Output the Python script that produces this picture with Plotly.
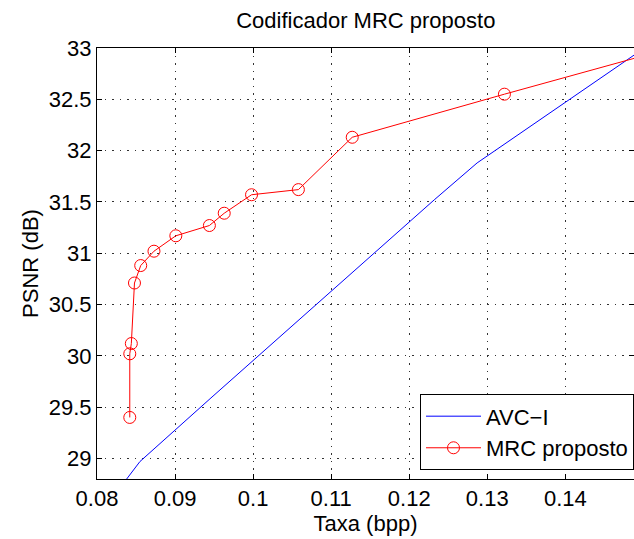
import plotly.graph_objects as go

# AVC-I reference curve (rate in bpp, PSNR in dB)
avc_rate = [0.0836, 0.0855, 0.0946, 0.1232, 0.1287, 0.1530]
avc_psnr = [28.78, 28.97, 29.59, 31.52, 31.88, 33.15]

# Proposed MRC coder
mrc_rate = [0.0842, 0.0842, 0.0844, 0.0848, 0.0856, 0.0873, 0.0901, 0.0944,
            0.0963, 0.0998, 0.1058, 0.1127, 0.1322, 0.1560]
mrc_psnr = [29.40, 30.02, 30.12, 30.71, 30.88, 31.02, 31.17, 31.27,
            31.39, 31.57, 31.62, 32.13, 32.55, 33.05]

x_ticks = [0.08, 0.09, 0.1, 0.11, 0.12, 0.13, 0.14]
x_tick_text = ["0.08", "0.09", "0.1", "0.11", "0.12", "0.13", "0.14"]
y_ticks = [29, 29.5, 30, 30.5, 31, 31.5, 32, 32.5, 33]
y_tick_text = ["29", "29.5", "30", "30.5", "31", "31.5", "32", "32.5", "33"]

FONT = "Liberation Sans, Arial, Helvetica, sans-serif"
FS = 22

fig = go.Figure()
fig.add_trace(go.Scatter(x=avc_rate, y=avc_psnr, mode="lines", name="AVC\u2212I",
                         line=dict(color="#0000ff", width=1)))
fig.add_trace(go.Scatter(x=mrc_rate, y=mrc_psnr, mode="lines+markers", name="MRC proposto",
                         line=dict(color="#ff0000", width=1),
                         marker=dict(symbol="circle-open", size=12, color="#ff0000",
                                     line=dict(width=1, color="#ff0000"))))

axis_common = dict(showline=True, linecolor="black", linewidth=1, mirror="ticks",
                   ticks="inside", ticklen=5, tickcolor="black", showgrid=True,
                   gridcolor="#333333", griddash="1.5px,6px", gridwidth=1, zeroline=False,
                   tickfont=dict(family=FONT, size=FS, color="black"))

fig.update_xaxes(range=[0.08, 0.1488], tickvals=x_ticks, ticktext=x_tick_text,
                 title=dict(text="Taxa (bpp)", font=dict(family=FONT, size=FS, color="black"),
                            standoff=0),
                 **axis_common)
fig.update_yaxes(range=[28.8, 33], tickvals=y_ticks, ticktext=y_tick_text,
                 title=dict(text="PSNR (dB)", font=dict(family=FONT, size=FS, color="black"),
                            standoff=4),
                 **axis_common)

fig.update_layout(
    width=634, height=539,
    margin=dict(l=97, r=0, t=48, b=60, autoexpand=False),
    paper_bgcolor="white", plot_bgcolor="white",
    title=dict(text="Codificador MRC proposto", x=0.577, xanchor="center",
               y=1 - 20 / 539, yanchor="middle",
               font=dict(family=FONT, size=FS, color="black")),
    showlegend=True,
    legend=dict(x=1, xanchor="right", y=0.02, yanchor="bottom",
                bgcolor="white", bordercolor="black", borderwidth=1,
                font=dict(family=FONT, size=22, color="black"),
                tracegroupgap=0, itemwidth=55),
)

fig.write_html("out.html", config={"displayModeBar": False},
               post_script="document.body.style.margin='0';document.body.style.overflow='hidden';")
